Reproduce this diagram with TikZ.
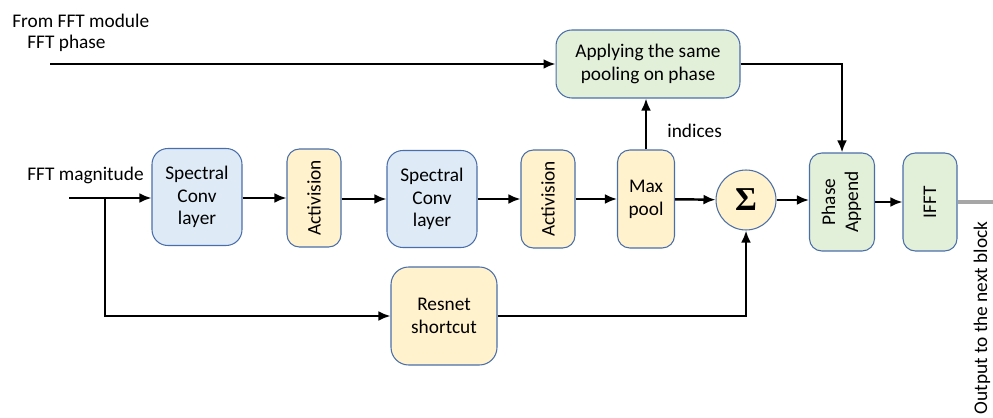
\documentclass[tikz,border=0pt]{standalone}
\usepackage{fontspec}
\setmainfont{Carlito}
\newfontfamily\sigfont{Liberation Serif}
\usepackage{xcolor}
\usetikzlibrary{arrows.meta}

\definecolor{specblue}{HTML}{DEEBF7}
\definecolor{actyellow}{HTML}{FFF2CC}
\definecolor{phasegreen}{HTML}{E2F0D9}
\definecolor{boxedge}{HTML}{4A6EA9}
\definecolor{outgray}{HTML}{A6A6A6}

\tikzset{
	blk/.style={draw=boxedge,line width=0.6pt,rounded corners=7pt,inner sep=0pt,align=center},
	conv/.style={blk,fill=specblue,minimum width=1.8cm,minimum height=1.94cm,rounded corners=9pt},
	actbox/.style={blk,fill=actyellow,minimum width=1.08cm,minimum height=1.96cm},
	poolbox/.style={blk,fill=actyellow,minimum width=1.14cm,minimum height=1.96cm},
	greenbox/.style={blk,fill=phasegreen,minimum height=1.96cm},
	sumnode/.style={draw=boxedge,line width=0.6pt,circle,fill=actyellow,minimum size=1.2cm,inner sep=0pt},
	txt/.style={anchor=west,inner sep=0pt},
	flow/.style={line width=1.4pt,-{Latex[length=2.4mm,width=2mm]}},
}

\begin{document}
\begin{tikzpicture}[x=0.02cm,y=-0.02cm,font=\fontsize{11}{13}\selectfont]
	\useasboundingbox (0,0) rectangle (993,418);

	% labels
	\node[txt] (src) at (12,21) {From FFT module};
	\node[txt] (phase) at (27,43) {FFT phase};
	\node[txt] (mag) at (27,175) {FFT magnitude};
	\node[txt] (idx) at (667,131) {indices};
	\node[rotate=90,inner sep=0pt] (outlbl) at (982,318) {Output to the next block};

	% blocks
	\node[conv] (conv1) at (197,197) {Spectral\\Conv\\layer};
	\node[actbox] (act1) at (314,198) {\rotatebox{90}{Activision}};
	\node[conv] (conv2) at (432,199) {Spectral\\Conv\\layer};
	\node[actbox] (act2) at (548,199) {\rotatebox{90}{Activision}};
	\node[poolbox] (pool) at (646,199) {Max\\pool};
	\node[sumnode] (sum) at (746,200) {\sigfont\bfseries\fontsize{19}{19}\selectfont Σ};
	\node[greenbox,minimum width=1.3cm] (append) at (842,202) {\rotatebox{90}{\begin{tabular}{@{}c@{}}Phase\\Append\end{tabular}}};
	\node[greenbox,minimum width=1.08cm] (ifft) at (930,202) {\rotatebox{90}{IFFT}};
	\node[blk,fill=phasegreen,minimum width=3.68cm,minimum height=1.36cm,rounded corners=9pt] (apply) at (648,64) {Applying the same\\pooling on phase};
	\node[blk,fill=actyellow,minimum width=2.12cm,minimum height=1.96cm,rounded corners=10pt] (res) at (444,316) {Resnet\\shortcut};

	\coordinate (phin) at (50,64);
	\coordinate (magin) at (69,198);
	\coordinate (split) at (105,198);
	\coordinate (out) at (993,202);

	% connectors
	\draw[flow] (phin) -- (apply.west);
	\draw[flow] (apply.east) -| (append.north);
	\draw[flow] (pool.north) -- (pool.north |- apply.south);
	\draw[flow] (magin) -- (magin -| conv1.west);
	\draw[flow] (conv1.east |- act1) -- (act1.west);
	\draw[flow] (act1.east |- conv2) -- (conv2.west);
	\draw[flow] (conv2) -- (act2);
	\draw[flow] (act2) -- (pool);
	\draw[flow] (pool) -- (sum);
	\draw[flow] (sum.east) -- (sum.east -| append.west);
	\draw[flow] (append) -- (ifft);
	\draw[flow] (split) |- (res.west);
	\draw[flow] (res.east) -| (sum.south);
	\draw[outgray,line width=2.2pt] (ifft.east) -- (out);
\end{tikzpicture}
\end{document}
